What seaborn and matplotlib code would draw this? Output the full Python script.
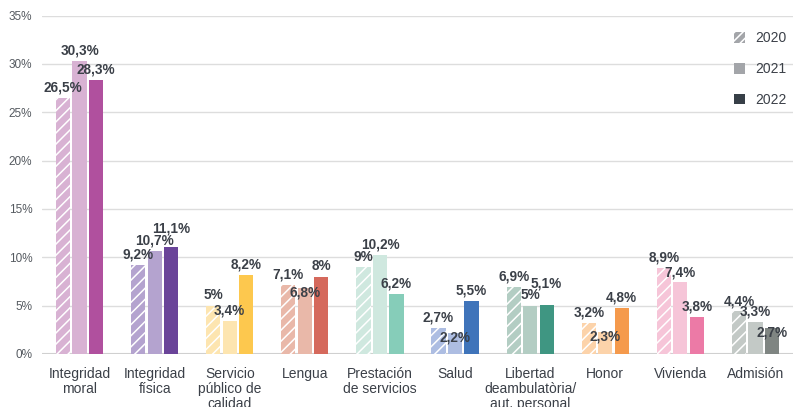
import pandas as pd
import matplotlib.pyplot as plt
import numpy as np
import seaborn as sns
from matplotlib.patches import Patch

categories = ['Integridad\nmoral', 'Integridad\nfísica', 'Servicio\npúblico de\ncalidad', 'Lengua',
              'Prestación\nde servicios', 'Salud', 'Libertad\ndeambulatòria/\naut. personal',
              'Honor', 'Vivienda', 'Admisión']
years = ['2020', '2021', '2022']
v2020 = [26.5, 9.2, 5.0, 7.1, 9.0, 2.7, 6.9, 3.2, 8.9, 4.4]
v2021 = [30.3, 10.7, 3.4, 6.8, 10.2, 2.2, 5.0, 2.3, 7.4, 3.3]
v2022 = [28.3, 11.1, 8.2, 8.0, 6.2, 5.5, 5.1, 4.8, 3.8, 2.7]

# light shade (2020 hatched + 2021), dark shade (2022)
light = ['#d8b2d3', '#b4a3cf', '#fde5b0', '#e9b8a9', '#cfe8df', '#adbde2', '#b3cdc3', '#fcd3aa', '#f6c5d8', '#c3c9c6']
dark = ['#b0509e', '#6a4499', '#fdc84e', '#d5695c', '#86cdb9', '#3f74ba', '#3f9682', '#f59a4c', '#ec7aa6', '#7f8582']

df = pd.DataFrame({
    'cat': categories * 3,
    'year': [y for y in years for _ in categories],
    'val': v2020 + v2021 + v2022,
})

sns.set_style('white')
plt.rcParams['font.family'] = ['Liberation Sans', 'DejaVu Sans']
plt.rcParams['hatch.color'] = 'white'
plt.rcParams['hatch.linewidth'] = 1.1
txt = '#3b4048'

fig = plt.figure(figsize=(7.93, 4.07), dpi=100)
ax = fig.add_axes([42 / 793, 1 - 354 / 407, 751 / 793, (354 - 15.5) / 407])

sns.barplot(data=df, x='cat', y='val', hue='year', order=categories, hue_order=years,
            width=0.66, gap=0.14, legend=False, ax=ax, zorder=3)

for yi, cont in enumerate(ax.containers):
    for ci, bar in enumerate(cont):
        if yi == 2:
            bar.set_facecolor(dark[ci])
        else:
            bar.set_facecolor(light[ci])
        bar.set_edgecolor('white')
        bar.set_linewidth(0)
        if yi == 0:
            bar.set_hatch('///')

ax.set_xlim(-0.5, 9.5)
ax.set_ylim(0, 35)
ax.set_yticks(range(0, 36, 5))
ax.set_yticklabels([f'{t}%' for t in range(0, 36, 5)], fontsize=8.5, color='#555a60')
ax.yaxis.grid(True, color='#dddddd', lw=1, zorder=0)
ax.axhline(0, color='#d0d0d0', lw=1.5, zorder=2)
ax.tick_params(axis='both', length=0)
ax.tick_params(axis='y', pad=7)
ax.tick_params(axis='x', pad=9.5)
ax.set_xticks(range(len(categories)))
ax.set_xticklabels(categories, fontsize=10, color=txt, linespacing=1.1, va='top')
ax.set_xlabel('')
ax.set_ylabel('')
sns.despine(ax=ax, left=True, bottom=True)


def fmt(v):
    s = f'{v:.1f}'.rstrip('0').rstrip('.')
    return s.replace('.', ',') + '%'


# value labels with a simple push-away when they collide inside a group
fig.canvas.draw()
rend = fig.canvas.get_renderer()
inv = ax.transData.inverted()
for ci in range(len(categories)):
    placed = []
    for yi, cont in enumerate(ax.containers):
        bar = cont[ci]
        x = bar.get_x() + bar.get_width() / 2
        h = bar.get_height()
        t = ax.text(x, h + 0.35, fmt(h), ha='center', va='bottom', fontsize=9.8,
                    fontweight='bold', color=txt, zorder=5)
        bb = t.get_window_extent(rend).shrunk(1, 0.72)
        for pbb, pfull, ph in placed:
            if bb.overlaps(pbb):
                if h < ph:
                    t.set_va('center')
                    t.set_y(h - 0.45)
                else:
                    ytop = inv.transform((0, pfull.y1))[1]
                    t.set_y(ytop - 0.2)
                bb = t.get_window_extent(rend).shrunk(1, 0.72)
        placed.append((bb, t.get_window_extent(rend), h))

handles = [Patch(facecolor='#a3a5a9', edgecolor='white', lw=0, hatch='////'),
           Patch(facecolor='#a3a5a9', lw=0),
           Patch(facecolor='#373f47', lw=0)]
leg = ax.legend(handles, years, loc='upper left', bbox_to_anchor=(0.905, 0.99), frameon=False,
                fontsize=10, handlelength=0.8, handleheight=0.8, labelspacing=1.2,
                handletextpad=0.7, labelcolor=txt)

fig.savefig('out.png', dpi=100)
